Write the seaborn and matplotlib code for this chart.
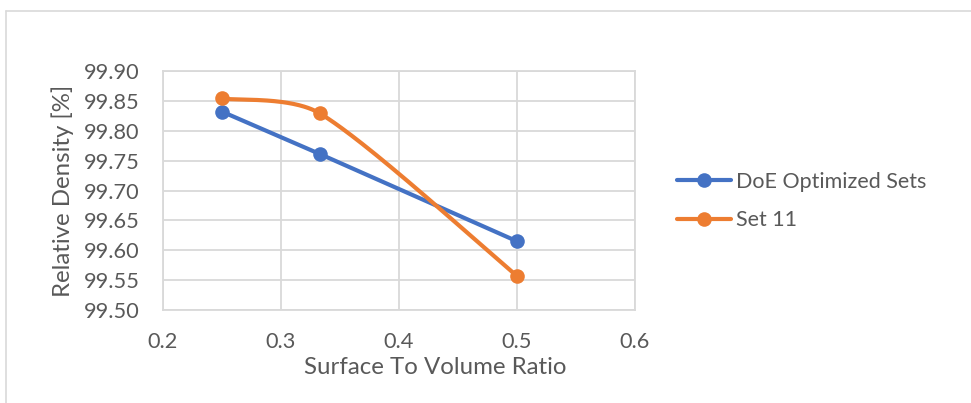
import numpy as np
import pandas as pd
import matplotlib
matplotlib.use("Agg")
import matplotlib.pyplot as plt
from matplotlib.lines import Line2D
import seaborn as sns

# ---- data ----
x_doe = [0.25, 0.333, 0.5]
y_doe = [99.832, 99.761, 99.615]
x_set11 = [0.25, 0.333, 0.5]
y_set11 = [99.854, 99.829, 99.557]
series_names = ["DoE Optimized Sets", "Set 11"]
x_ticks = [0.2, 0.3, 0.4, 0.5, 0.6]
y_ticks = [99.50, 99.55, 99.60, 99.65, 99.70, 99.75, 99.80, 99.85, 99.90]
x_label = "Surface To Volume Ratio"
y_label = "Relative Density [%]"

BLUE = "#4472C4"
ORANGE = "#ED7D31"
GRID = "#D9D9D9"
TXT = "#595959"

sns.set_theme(style="white")
plt.rcParams["font.family"] = ["Lato", "DejaVu Sans"]

W, H = 971, 403
fig = plt.figure(figsize=(W / 100, H / 100), dpi=100)
ax = fig.add_axes([163 / W, 1 - 310 / H, (635 - 163) / W, (310 - 71) / H])

xmin, xmax = x_ticks[0], x_ticks[-1]
ymin, ymax = y_ticks[0], y_ticks[-1]


def excel_smooth(xs, ys, n=80):
    # Catmull-Rom Bezier (1/6 handles) with handle length clamped to a third
    # of the segment, computed in display-like space
    sx = (xmax - xmin) / 472.0
    sy = (ymax - ymin) / 239.0
    P = np.column_stack([(np.array(xs) - xmin) / sx, (np.array(ys) - ymin) / sy])
    k = len(P)

    def clamp(v, lim):
        L = np.linalg.norm(v)
        return v if L <= lim or L == 0 else v * (lim / L)

    out = []
    t = np.linspace(0, 1, n)[:, None]
    for i in range(k - 1):
        p0 = P[i - 1] if i > 0 else P[i]
        p1 = P[i]
        p2 = P[i + 1]
        p3 = P[i + 2] if i + 2 < k else P[i + 1]
        d = np.linalg.norm(p2 - p1)
        c1 = p1 + clamp((p2 - p0) / 6.0, d / 3.0)
        c2 = p2 - clamp((p3 - p1) / 6.0, d / 3.0)
        seg = ((1 - t) ** 3) * p1 + 3 * ((1 - t) ** 2) * t * c1 + 3 * (1 - t) * t ** 2 * c2 + t ** 3 * p2
        out.append(seg if i == 0 else seg[1:])
    out = np.vstack(out)
    return out[:, 0] * sx + xmin, out[:, 1] * sy + ymin


df_doe = pd.DataFrame({"x": x_doe, "y": y_doe})
df_s11 = pd.DataFrame({"x": x_set11, "y": y_set11})
sxs, sys_ = excel_smooth(x_set11, y_set11)
df_s11_smooth = pd.DataFrame({"x": sxs, "y": sys_})

lw = 3.0
ms = 10.5
sns.lineplot(data=df_doe, x="x", y="y", ax=ax, color=BLUE, linewidth=lw,
             marker="o", markersize=ms, markeredgewidth=0, sort=False, zorder=3)
sns.lineplot(data=df_s11_smooth, x="x", y="y", ax=ax, color=ORANGE, linewidth=lw,
             sort=False, zorder=4)
sns.scatterplot(data=df_s11, x="x", y="y", ax=ax, color=ORANGE, s=ms ** 2,
                linewidth=0, zorder=5)

ax.set_xlim(xmin, xmax)
ax.set_ylim(ymin, ymax)
ax.set_xticks(x_ticks)
ax.set_yticks(y_ticks)
ax.set_xticklabels([f"{v:.1f}" for v in x_ticks])
ax.set_yticklabels([f"{v:.2f}" for v in y_ticks])
ax.grid(True, color=GRID, linewidth=1.3)
ax.set_axisbelow(True)
for s in ax.spines.values():
    s.set_color(GRID)
    s.set_linewidth(1.3)
ax.tick_params(axis="both", length=0, labelsize=15.7, colors=TXT)
ax.tick_params(axis="y", pad=17)
ax.tick_params(axis="x", pad=15.5)

ax.set_xlabel(x_label, fontsize=17.3, color=TXT)
ax.set_ylabel(y_label, fontsize=17.3, color=TXT)
ax.xaxis.set_label_coords((435.5 - 163) / 472, -(367 - 310) / 239, transform=ax.transAxes)
ax.xaxis.label.set_va("center")
ax.yaxis.set_label_coords(-(163 - 63) / 472, 0.5, transform=ax.transAxes)
ax.yaxis.label.set_va("center")

handles = [
    Line2D([], [], color=BLUE, linewidth=lw, marker="o", markersize=ms, markeredgewidth=0),
    Line2D([], [], color=ORANGE, linewidth=lw, marker="o", markersize=ms, markeredgewidth=0),
]
leg = fig.legend(handles, series_names, loc="center left",
                 bbox_to_anchor=(660 / W, 1 - 201 / H), frameon=False,
                 fontsize=15.5, handlelength=2.5, handletextpad=0.25,
                 labelspacing=0.85, borderpad=0.3)
for t in leg.get_texts():
    t.set_color(TXT)

# outer chart frame (top and left visible)
fig.add_artist(Line2D([6 / W, 1.0], [1 - 11 / H, 1 - 11 / H], color=GRID, linewidth=1.2,
                      transform=fig.transFigure))
fig.add_artist(Line2D([6 / W, 6 / W], [0.0, 1 - 11 / H], color=GRID, linewidth=1.2,
                      transform=fig.transFigure))

fig.savefig("out.png", dpi=100)
